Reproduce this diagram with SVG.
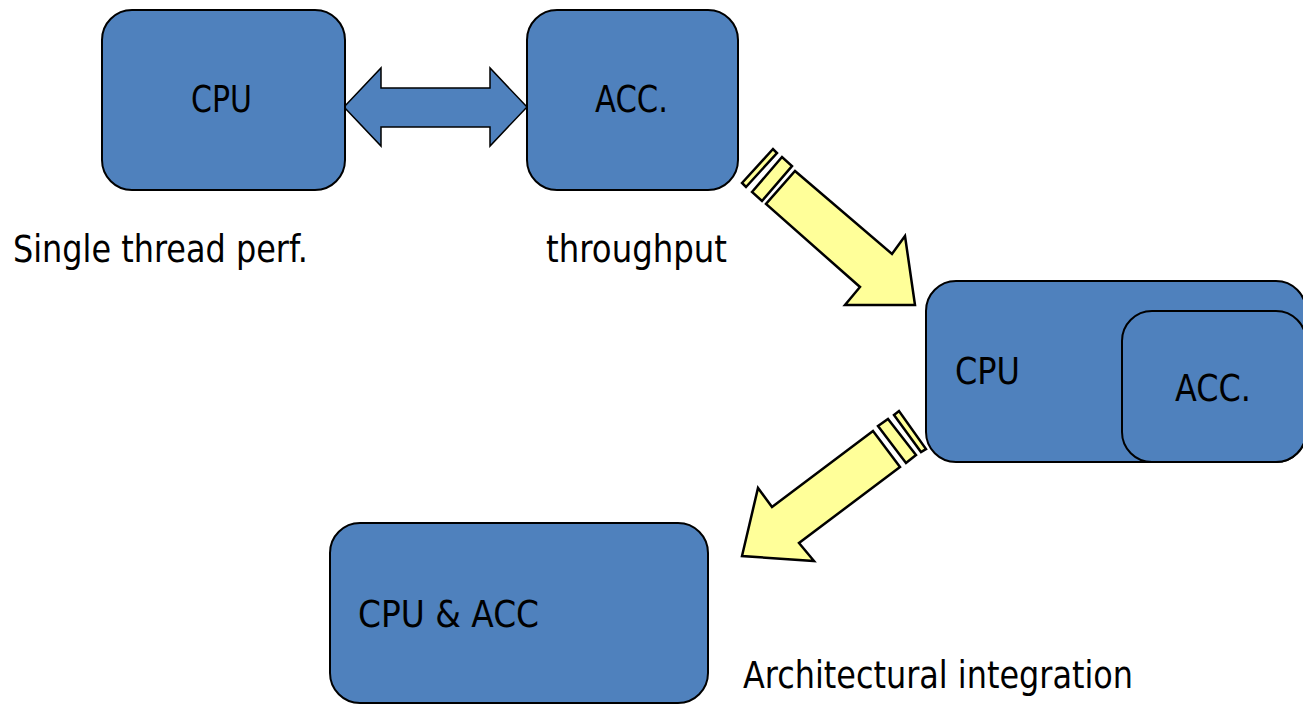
<svg xmlns="http://www.w3.org/2000/svg" width="1303" height="705" viewBox="0 0 1303 705">
<style>
.box{fill:#4f81bd;stroke:#000;stroke-width:2}
.yel{fill:#ffff99;stroke:#000;stroke-width:2.5;stroke-linejoin:miter}
.blu{fill:#4f81bd;stroke:#000;stroke-width:1.5}
text{font-family:"DejaVu Sans","Liberation Sans",sans-serif;font-size:37px;fill:#000}
</style>
<rect width="1303" height="705" fill="#fff"/>
<g id="connectors">
<polygon class="blu" points="344,107 381,68 381,88 490,88 490,68 527,107 490,146 490,127 381,127 381,146"/>
<g id="arrow1">
<polygon class="yel" points="742,183 773,149 777,153 746,187"/>
<polygon class="yel" points="752,192 782,157 792,166 762,201"/>
<polygon class="yel" points="795,171 892,254 905,236 915,305 845,305 860,287 766,204"/>
</g>
<g id="arrow2">
<polygon class="yel" points="894,415 899,411 926,449 921,452"/>
<polygon class="yel" points="878,426 888,419 916,455 906,463"/>
<polygon class="yel" points="873,431 772,507 758,488 742,556 814,561 799,543 900,467"/>
</g>
</g>
<g id="cpu1">
<rect class="box" x="102" y="10" width="243" height="180" rx="30"/>
<text x="191" y="112" textLength="61" lengthAdjust="spacingAndGlyphs">CPU</text>
</g>
<g id="acc1">
<rect class="box" x="527" y="10" width="211" height="180" rx="30"/>
<text x="595" y="112" textLength="73" lengthAdjust="spacingAndGlyphs">ACC.</text>
</g>
<g id="label-single">
<text x="13" y="262" textLength="295" lengthAdjust="spacingAndGlyphs">Single thread perf.</text>
</g>
<g id="label-throughput">
<text x="546" y="262" textLength="181" lengthAdjust="spacingAndGlyphs">throughput</text>
</g>
<g id="cpu2">
<rect class="box" x="926" y="281" width="380" height="181" rx="30"/>
<text x="955" y="384" textLength="65" lengthAdjust="spacingAndGlyphs">CPU</text>
</g>
<g id="acc2">
<rect class="box" x="1122" y="311" width="184" height="151" rx="30"/>
<text x="1175" y="401" textLength="76" lengthAdjust="spacingAndGlyphs">ACC.</text>
</g>
<g id="cpuacc">
<rect class="box" x="330" y="523" width="378" height="180" rx="30"/>
<text x="358" y="627" textLength="181" lengthAdjust="spacingAndGlyphs">CPU &amp; ACC</text>
</g>
<g id="label-arch">
<text x="743" y="688" textLength="390" lengthAdjust="spacingAndGlyphs">Architectural integration</text>
</g>
</svg>
